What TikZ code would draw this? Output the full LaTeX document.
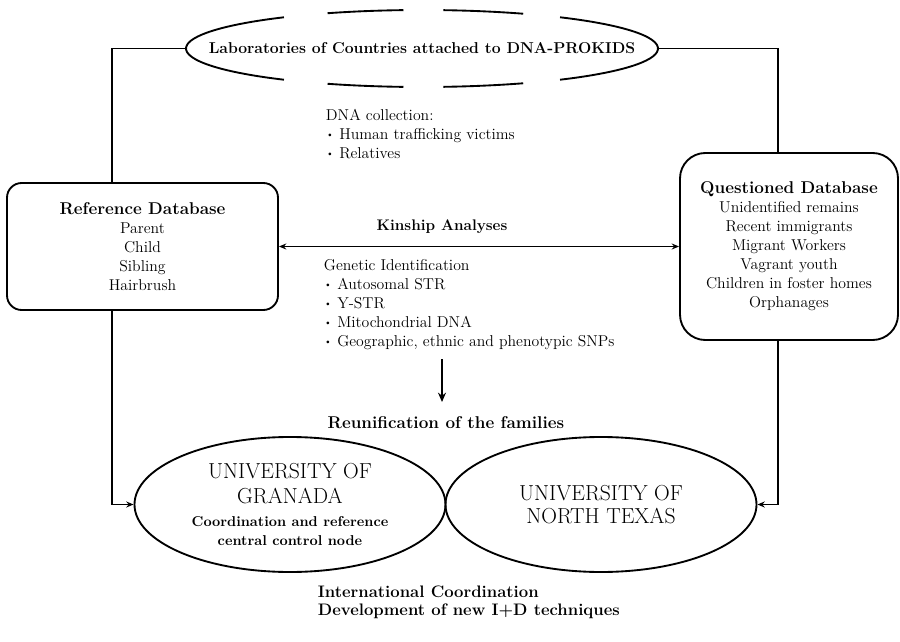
\documentclass[tikz,border=0pt]{standalone}
\usetikzlibrary{shapes.geometric,arrows.meta}

\newcommand{\bul}{\raisebox{0.3ex}{\scriptsize\textbullet}\ }
\newcommand{\dbhead}[1]{{\fontsize{12.8}{15}\selectfont\bfseries #1}}
\newcommand{\unifont}{\fontsize{16.3}{18}\selectfont}

\tikzset{every picture/.style={line width=1.4pt}}
\tikzset{
	>={Stealth[length=5.5pt,width=4.5pt]},
	dbbox/.style={draw, align=center, inner sep=0pt, font=\fontsize{11.8}{14.25}\selectfont},
	unibox/.style={draw, ellipse, align=center, inner sep=0pt, minimum width=233.25pt, minimum height=101.25pt, font=\fontsize{10.7}{14.25}\selectfont},
	labcloud/.style={ellipse, inner sep=0pt, minimum width=354pt, minimum height=57.75pt},
	txtblock/.style={align=left, inner sep=0pt, font=\fontsize{11.8}{14.25}\selectfont},
	boldlabel/.style={inner sep=0pt, font=\fontsize{12.8}{15}\selectfont\bfseries},
}

\begin{document}
\begin{tikzpicture}[x=0.75pt,y=0.75pt,yscale=-1,xscale=1]
	\useasboundingbox (0,0) rectangle (900,642);
	
	%Cloud [id:lab]
	\node [labcloud, label={[boldlabel, font=\fontsize{11.8}{14}\selectfont\bfseries]center:Laboratories of Countries attached to DNA-PROKIDS}] (lab) at (422,48.5) {};
	\foreach \a/\b in {125.8/234.2, 94.5/113.6, 64.6/84.8, -54.2/54.2, 246.4/265.5, 275.2/295.4}
		\draw (lab.center) ++(\a:177pt and 28.875pt) arc[start angle=\a, end angle=\b, x radius=177pt, y radius=28.875pt];
	
	%Rounded Rect [id:ref]
	\node [dbbox, rounded corners=11pt, minimum width=203.25pt, minimum height=95.25pt] (ref) at (142.5,246.5) {\dbhead{Reference Database}\\ Parent\\ Child\\ Sibling\\ Hairbrush};
	%Rounded Rect [id:que]
	\node [dbbox, rounded corners=19pt, minimum width=163.5pt, minimum height=140.25pt] (que) at (789,246.5) {\dbhead{Questioned Database}\\ Unidentified remains\\ Recent immigrants\\ Migrant Workers\\ Vagrant youth\\ Children in foster homes\\ Orphanages};
	
	% Text Node
	\node [txtblock, anchor=north west] (col) at (325,108.6) {DNA collection:\\ \bul Human trafficking victims\\ \bul Relatives};
	% Text Node
	\node [boldlabel, font=\fontsize{11.5}{14}\selectfont\bfseries] (kin) at (442,227) {Kinship Analyses};
	% Text Node
	\node [txtblock, anchor=north west] (gen) at (323,258.6) {Genetic Identification\\ \bul Autosomal STR\\ \bul Y-STR\\ \bul Mitochondrial DNA\\ \bul Geographic, ethnic and phenotypic SNPs};
	% Text Node
	\node [boldlabel] (reu) at (446,423) {Reunification of the families};
	
	%Ellipse [id:gra]
	\node [unibox] (gra) at (290,504.5) {{\unifont UNIVERSITY OF}\\[4.5pt] {\unifont GRANADA}\\[3pt] {\bfseries Coordination and reference}\\ {\bfseries central control node}};
	%Ellipse [id:tex]
	\node [unibox] (tex) at (601,504.5) {{\unifont UNIVERSITY OF}\\[3pt] {\unifont NORTH TEXAS}};
	
	% Text Node
	\node [txtblock, font=\fontsize{12.5}{13.5}\selectfont\bfseries, anchor=north west] (bot) at (317,585) {International Coordination\\ Development of new I+D techniques};
	
	%Straight Lines
	\coordinate (lft) at (112,0);
	\coordinate (rgt) at (778,0);
	\draw (lab.west) -| (lft |- ref.north);
	\draw (lab.east) -| (rgt |- que.north);
	\draw [<->] (ref) -- (que);
	\draw [->] (lft |- ref.south) |- (gra.west);
	\draw [->] (rgt |- que.south) |- (tex.east);
	\draw [-{Stealth[length=7pt,width=6pt]}, shorten <=6.4pt, shorten >=10.5pt] (kin |- gen.south) -- (kin |- reu.north);
	
\end{tikzpicture}
\end{document}
